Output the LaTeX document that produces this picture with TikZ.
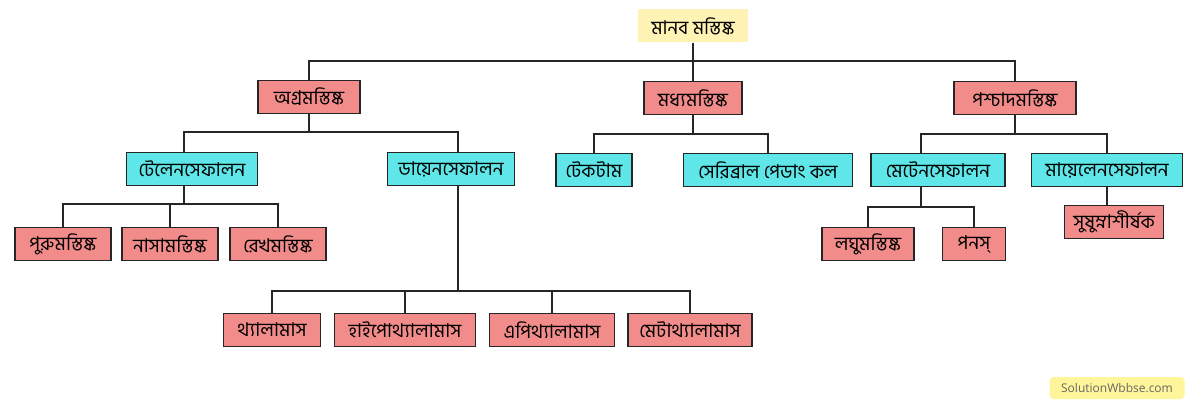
\documentclass[tikz,border=0pt]{standalone}
\usepackage{fontspec}
\newfontfamily\bnfont[Script=Bengali]{Hind Siliguri}
\usetikzlibrary{positioning}
\definecolor{tileroot}{HTML}{FFF2B5}
\definecolor{tilered}{HTML}{F28C8A}
\definecolor{tilecyan}{HTML}{5FE6E8}
\definecolor{tilemark}{HTML}{FFF59A}
\tikzstyle{brain_box}=[rectangle, draw=black!85, line width=1.6pt, inner sep=0pt,
                        font=\bnfont\fontsize{19}{19}\selectfont, minimum height=33pt]
\tikzstyle{part_red}=[brain_box, fill=tilered]
\tikzstyle{part_cyan}=[brain_box, fill=tilecyan]
\tikzstyle{link}=[draw=black!85, line width=1.3pt]

\begin{document}
\begin{tikzpicture}[x=1pt, y=-1pt]
    \useasboundingbox (0,0) rectangle (1200,409);
    \fill[white] (0,0) rectangle (1200,409);

    \node at (693, 26) (root) [rectangle, fill=tileroot, minimum width=110pt, minimum height=33pt,
                               font=\bnfont\fontsize{19}{19}\selectfont] {মানব মস্তিষ্ক};

    % level 1
    \node at (309, 97) (fore) [part_red, minimum width=102pt] {অগ্রমস্তিষ্ক};
    \node at (693, 98) (mid)  [part_red, minimum width=98pt] {মধ্যমস্তিষ্ক};
    \node at (1015, 98) (hind) [part_red, minimum width=122pt] {পশ্চাদমস্তিষ্ক};

    % level 2
    \node at (192, 169) (tel)   [part_cyan, minimum width=131pt] {টেলেনসেফালন};
    \node at (451, 169) (dien)  [part_cyan, minimum width=127pt] {ডায়েনসেফালন};
    \node at (594, 170) (tect)  [part_cyan, minimum width=76pt] {টেকটাম};
    \node at (768, 170) (cped)  [part_cyan, minimum width=169pt] {সেরিব্রাল পেডাং কল};
    \node at (938, 170) (meten) [part_cyan, minimum width=134pt] {মেটেনসেফালন};
    \node at (1107, 170) (myel) [part_cyan, minimum width=151pt] {মায়েলেনসেফালন};

    % level 3
    \node at (63, 244)  (puru) [part_red, minimum width=96pt] {পুরুমস্তিষ্ক};
    \node at (170, 244) (nasa) [part_red, minimum width=96pt] {নাসামস্তিষ্ক};
    \node at (278, 244) (rekh) [part_red, minimum width=96pt] {রেখমস্তিষ্ক};
    \node at (868, 244) (lagh) [part_red, minimum width=92pt] {লঘুমস্তিষ্ক};
    \node at (974, 244) (pons) [part_red, minimum width=63pt] {পনস্‌};
    \node at (1114, 222) (sush) [part_red, minimum width=99pt] {সুষুম্নাশীর্ষক};

    % level 4
    \node at (272, 330) (thal) [part_red, minimum width=97pt] {থ্যালামাস};
    \node at (405, 330) (hypo) [part_red, minimum width=141pt] {হাইপোথ্যালামাস};
    \node at (552, 330) (epi)  [part_red, minimum width=125pt] {এপিথ্যালামাস};
    \node at (690, 330) (meta) [part_red, minimum width=124pt] {মেটাথ্যালামাস};

    % buses
    \coordinate (bRoot) at (693, 61);
    \coordinate (bFore) at (309, 132);
    \coordinate (bMid)  at (693, 134);
    \coordinate (bHind) at (1015, 134);
    \coordinate (bTel)  at (184, 204);
    \coordinate (bDien) at (458, 291);
    \coordinate (bMet)  at (921, 207);

    \draw[link] (root.south) -- (bRoot);
    \foreach \c in {fore, mid, hind} \draw[link] (\c.north) |- (bRoot);

    \draw[link] (fore.south) -- (bFore);
    \draw[link] (tel.north -| bTel) |- (bFore);
    \draw[link] (dien.north -| bDien) |- (bFore);

    \draw[link] (mid.south) -- (bMid);
    \foreach \c in {tect, cped} \draw[link] (\c.north) |- (bMid);

    \draw[link] (hind.south) -- (bHind);
    \draw[link] (meten.north -| bMet) |- (bHind);
    \draw[link] (myel.north) |- (bHind);

    \draw[link] (tel.south -| bTel) -- (bTel);
    \foreach \c in {puru, nasa, rekh} \draw[link] (\c.north) |- (bTel);

    \draw[link] (dien.south -| bDien) -- (bDien);
    \foreach \c in {thal, hypo, epi, meta} \draw[link] (\c.north) |- (bDien);

    \draw[link] (meten.south -| bMet) -- (bMet);
    \foreach \c in {lagh, pons} \draw[link] (\c.north) |- (bMet);

    \draw[link] (myel.south) -- (sush.north -| myel.south);

    % watermark
    \node at (1117, 388) (mark) [rectangle, rounded corners=4pt, fill=tilemark, minimum width=135pt,
                                 minimum height=22pt, text=black!60,
                                 font=\fontspec{Open Sans}\fontsize{12}{12}\selectfont] {SolutionWbbse.com};
\end{tikzpicture}
\end{document}
